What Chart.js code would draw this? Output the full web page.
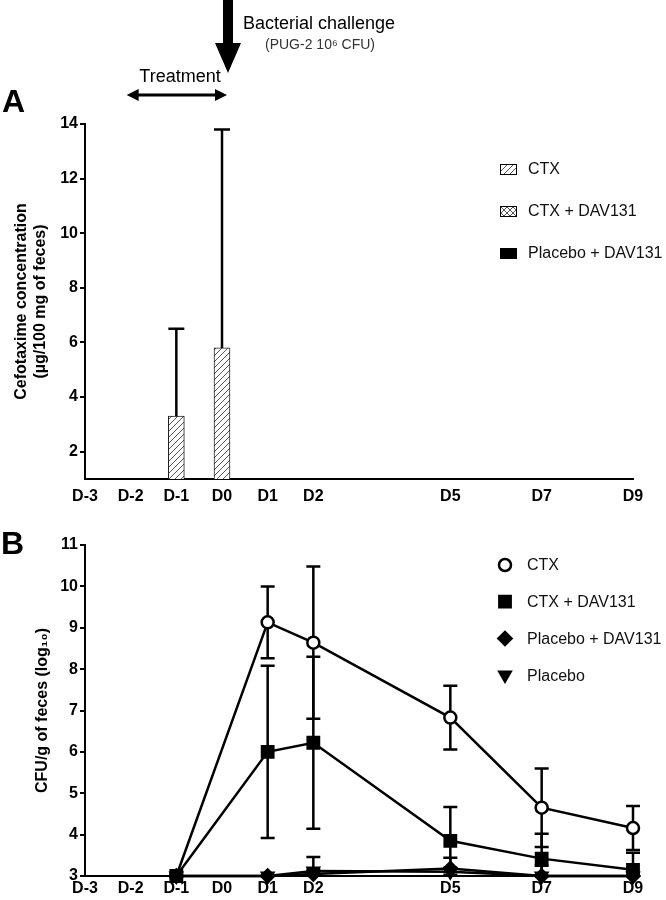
<!DOCTYPE html>
<html>
<head>
<meta charset="utf-8">
<script src="https://cdn.jsdelivr.net/npm/chart.js@4.4.1/dist/chart.umd.min.js"></script>
<style>
  html, body { margin: 0; padding: 0; background: #fff; }
  #page { position: relative; width: 666px; height: 900px; }
  canvas { position: absolute; left: 0; }
  #chartA { top: 0; }
  #chartB { top: 505px; }
</style>
</head>
<body>
<div id="page">
  <canvas id="chartA" width="666" height="505"></canvas>
  <canvas id="chartB" width="666" height="395"></canvas>
</div>
<script>
const FONT = '"Liberation Sans", Arial, sans-serif';

// x axis: study days
const tickDays = [-3, -2, -1, 0, 1, 2, 5, 7, 9];

// panel A: cefotaxime concentration (µg/100 mg of feces)
const concDays = [-1, 0];
const concCtx = [3.3, 5.8];
const concCtxErr = [3.2, 8.0];
const concCtxDav = [null, null];
const concPlaceboDav = [null, null];
const concTicks = [2, 4, 6, 8, 10, 12, 14];

// panel B: CFU/g of feces (log10)
const cfuDays = [-1, 1, 2, 5, 7, 9];
const cfuCtx = [3.0, 9.13, 8.64, 6.83, 4.65, 4.16];
const cfuCtxErr = [0, 0.87, 1.84, 0.77, 0.95, 0.53];
const cfuCtxDav = [3.0, 6.0, 6.22, 3.85, 3.42, 3.15];
const cfuCtxDavErr = [0, 2.08, 2.08, 0.82, 0.6, 0.41];
const cfuPlaceboDav = [3.0, 3.0, 3.05, 3.18, 3.0, 3.0];
const cfuPlaceboDavErr = [0, 0, 0.1, 0.26, 0, 0];
const cfuPlacebo = [3.0, 3.0, 3.12, 3.1, 3.0, 3.0];
const cfuPlaceboErr = [0, 0, 0.34, 0.1, 0.25, 0];
const cfuTicks = [3, 4, 5, 6, 7, 8, 9, 10, 11];

function toPoints(days, values) {
  return days.map((d, i) => ({ x: d, y: values[i] }));
}

function makePattern(kind) {
  const c = document.createElement('canvas');
  c.width = 6;
  c.height = 6;
  const g = c.getContext('2d');
  g.fillStyle = '#fff';
  g.fillRect(0, 0, 6, 6);
  g.strokeStyle = '#555';
  g.lineWidth = 1;
  g.beginPath();
  g.moveTo(0, 6); g.lineTo(6, 0);
  g.moveTo(-1, 1); g.lineTo(1, -1);
  g.moveTo(5, 7); g.lineTo(7, 5);
  if (kind === 'cross') {
    g.moveTo(0, 0); g.lineTo(6, 6);
    g.moveTo(-1, 5); g.lineTo(1, 7);
    g.moveTo(5, -1); g.lineTo(7, 1);
  }
  g.stroke();
  return g.createPattern(c, 'repeat');
}

const errorBars = {
  id: 'errorBars',
  beforeDatasetsDraw(chart, args, opts) {
    if (opts.behind) drawErrors(chart, opts);
  },
  afterDatasetsDraw(chart, args, opts) {
    if (!opts.behind) drawErrors(chart, opts);
  },
};

function drawErrors(chart, opts) {
  const { ctx, chartArea, scales: { x, y } } = chart;
  ctx.save();
  ctx.strokeStyle = '#000';
  ctx.lineWidth = opts.width;
  chart.data.datasets.forEach(ds => {
    if (!ds.errors) return;
    ds.data.forEach((pt, j) => {
      const e = ds.errors[j];
      if (pt.y == null || !e) return;
      const px = x.getPixelForValue(pt.x);
      const top = y.getPixelForValue(pt.y + e);
      let bottom = y.getPixelForValue(opts.upOnly ? pt.y : pt.y - e);
      const capLow = !opts.upOnly && bottom < chartArea.bottom;
      bottom = Math.min(bottom, chartArea.bottom);
      ctx.beginPath();
      ctx.moveTo(px, top);
      ctx.lineTo(px, bottom);
      ctx.moveTo(px - opts.cap, top);
      ctx.lineTo(px + opts.cap, top);
      if (capLow) {
        ctx.moveTo(px - opts.cap, bottom);
        ctx.lineTo(px + opts.cap, bottom);
      }
      ctx.stroke();
    });
  });
  ctx.restore();
}

const sideLegend = {
  id: 'sideLegend',
  afterDraw(chart, args, opts) {
    const ctx = chart.ctx;
    ctx.save();
    ctx.font = '16px ' + FONT;
    ctx.textBaseline = 'middle';
    ctx.textAlign = 'left';
    chart.data.datasets.forEach((ds, i) => {
      const cy = opts.y + i * opts.gap;
      if (opts.kind === 'box') {
        ctx.fillStyle = ds.backgroundColor;
        ctx.fillRect(opts.x, cy - 5, 17, 11);
        ctx.strokeStyle = '#000';
        ctx.lineWidth = 1;
        ctx.strokeRect(opts.x + 0.5, cy - 4.5, 16, 10);
      } else {
        ctx.fillStyle = ds.pointBackgroundColor;
        ctx.strokeStyle = ds.pointBorderColor;
        ctx.lineWidth = ds.pointBorderWidth;
        Chart.helpers.drawPoint(ctx, {
          pointStyle: ds.pointStyle,
          radius: ds.pointRadius,
          rotation: ds.pointRotation || 0,
          borderWidth: ds.pointBorderWidth,
        }, opts.x, cy);
      }
      ctx.fillStyle = '#111';
      ctx.fillText(ds.label, opts.textX, cy + 1);
    });
    ctx.restore();
  },
};

const panelLabel = {
  id: 'panelLabel',
  afterDraw(chart, args, opts) {
    const ctx = chart.ctx;
    ctx.save();
    ctx.font = 'bold 32px ' + FONT;
    ctx.fillStyle = '#000';
    ctx.textBaseline = 'middle';
    ctx.fillText(opts.text, opts.x, opts.y);
    ctx.restore();
  },
};

// arrows and notes above panel A
const timeline = {
  id: 'timeline',
  afterDraw(chart) {
    const { ctx, scales: { x } } = chart;
    const d0 = x.getPixelForValue(0) + 6;
    const dm2 = x.getPixelForValue(-2);
    ctx.save();
    ctx.fillStyle = '#000';
    ctx.strokeStyle = '#000';
    // challenge arrow
    ctx.fillRect(d0 - 5, 0, 10, 44);
    ctx.beginPath();
    ctx.moveTo(d0 - 13, 43);
    ctx.lineTo(d0 + 13, 43);
    ctx.lineTo(d0, 73);
    ctx.closePath();
    ctx.fill();
    ctx.textBaseline = 'middle';
    ctx.font = '18px ' + FONT;
    ctx.textAlign = 'left';
    ctx.fillText('Bacterial challenge', 243, 24);
    ctx.font = '14px ' + FONT;
    ctx.fillStyle = '#333';
    ctx.textAlign = 'center';
    ctx.fillText('(PUG-2 10\u2076 CFU)', 320, 45);
    ctx.fillStyle = '#000';
    ctx.font = '18px ' + FONT;
    ctx.fillText('Treatment', 180, 77);
    // treatment double arrow
    const left = dm2 - 4;
    const right = d0 - 1;
    const ay = 95;
    ctx.lineWidth = 3;
    ctx.beginPath();
    ctx.moveTo(left + 6, ay);
    ctx.lineTo(right - 6, ay);
    ctx.stroke();
    ctx.beginPath();
    ctx.moveTo(left, ay);
    ctx.lineTo(left + 12, ay - 6);
    ctx.lineTo(left + 12, ay + 6);
    ctx.closePath();
    ctx.moveTo(right, ay);
    ctx.lineTo(right - 12, ay - 6);
    ctx.lineTo(right - 12, ay + 6);
    ctx.closePath();
    ctx.fill();
    ctx.restore();
  },
};

function xScale(height, pad) {
  return {
    type: 'linear',
    offset: false,
    min: tickDays[0],
    max: tickDays[tickDays.length - 1],
    afterBuildTicks(scale) {
      scale.ticks = tickDays.map(v => ({ value: v }));
    },
    afterFit(scale) {
      scale.height = height;
    },
    ticks: {
      autoSkip: false,
      maxRotation: 0,
      padding: pad,
      color: '#000',
      font: { family: FONT, size: 16, weight: 'bold' },
      callback: v => 'D' + v,
    },
    grid: { display: false, drawTicks: false, offset: false },
    border: { display: true, color: '#000', width: 2 },
  };
}

function yScale(min, max, ticks, title, titlePad) {
  return {
    min,
    max,
    afterBuildTicks(scale) {
      scale.ticks = ticks.map(v => ({ value: v }));
    },
    afterFit(scale) {
      scale.width = 85;
    },
    ticks: {
      padding: 2,
      color: '#000',
      font: { family: FONT, size: 16, weight: 'bold' },
    },
    grid: {
      display: true,
      drawOnChartArea: false,
      drawTicks: true,
      tickLength: 5,
      color: '#000',
      lineWidth: 2,
    },
    border: { display: true, color: '#000', width: 2 },
    title: {
      display: true,
      text: title,
      color: '#000',
      padding: { top: titlePad, bottom: 0 },
      font: { family: FONT, size: 16, weight: 'bold', lineHeight: 1.2 },
    },
  };
}

new Chart(document.getElementById('chartA'), {
  type: 'bar',
  data: {
    datasets: [
      {
        label: 'CTX',
        data: toPoints(concDays, concCtx),
        errors: concCtxErr,
        backgroundColor: makePattern('hatch'),
        borderColor: '#222',
        borderWidth: 1,
      },
      {
        label: 'CTX + DAV131',
        data: toPoints(concDays, concCtxDav),
        backgroundColor: makePattern('cross'),
        borderColor: '#222',
        borderWidth: 1,
      },
      {
        label: 'Placebo + DAV131',
        data: toPoints(concDays, concPlaceboDav),
        backgroundColor: '#000',
        borderColor: '#000',
        borderWidth: 1,
      },
    ],
  },
  options: {
    responsive: false,
    animation: false,
    grouped: false,
    barThickness: 16,
    layout: { padding: { top: 124, right: 33, left: 0, bottom: 0 } },
    plugins: {
      legend: { display: false },
      tooltip: { enabled: false },
      errorBars: { behind: false, upOnly: true, cap: 8, width: 2.5 },
      sideLegend: { kind: 'box', x: 500, y: 169, gap: 42, textX: 528 },
      panelLabel: { text: 'A', x: 2, y: 103 },
    },
    scales: {
      x: xScale(26, 8),
      y: yScale(1, 14, concTicks, ['Cefotaxime concentration', '(\u00b5g/100 mg of feces)'], 12),
    },
  },
  plugins: [errorBars, sideLegend, panelLabel, timeline],
});

function lineSet(label, values, errors, style, fill, radius, rotation, order) {
  return {
    label,
    order,
    data: toPoints(cfuDays, values),
    errors,
    borderColor: '#000',
    borderWidth: 2.5,
    tension: 0,
    fill: false,
    clip: false,
    pointStyle: style,
    pointRadius: radius,
    pointRotation: rotation,
    pointBackgroundColor: fill,
    pointBorderColor: '#000',
    pointBorderWidth: 2.5,
  };
}

new Chart(document.getElementById('chartB'), {
  type: 'line',
  data: {
    datasets: [
      lineSet('CTX', cfuCtx, cfuCtxErr, 'circle', '#fff', 6, 0, 4),
      lineSet('CTX + DAV131', cfuCtxDav, cfuCtxDavErr, 'rect', '#000', 8, 0, 3),
      lineSet('Placebo + DAV131', cfuPlaceboDav, cfuPlaceboDavErr, 'rectRot', '#000', 6.5, 0, 2),
      lineSet('Placebo', cfuPlacebo, cfuPlaceboErr, 'triangle', '#000', 6.5, 180, 1),
    ],
  },
  options: {
    responsive: false,
    animation: false,
    layout: { padding: { top: 40, right: 33, left: 0, bottom: 0 } },
    plugins: {
      legend: { display: false },
      tooltip: { enabled: false },
      errorBars: { behind: true, upOnly: false, cap: 7, width: 2.5 },
      sideLegend: { kind: 'point', x: 505, y: 60, gap: 36.7, textX: 527 },
      panelLabel: { text: 'B', x: 1, y: 40 },
    },
    scales: {
      x: xScale(24, 3),
      y: yScale(3, 11, cfuTicks, 'CFU/g of feces (log\u2081\u2080)', 33),
    },
  },
  plugins: [errorBars, sideLegend, panelLabel],
});
</script>
</body>
</html>
